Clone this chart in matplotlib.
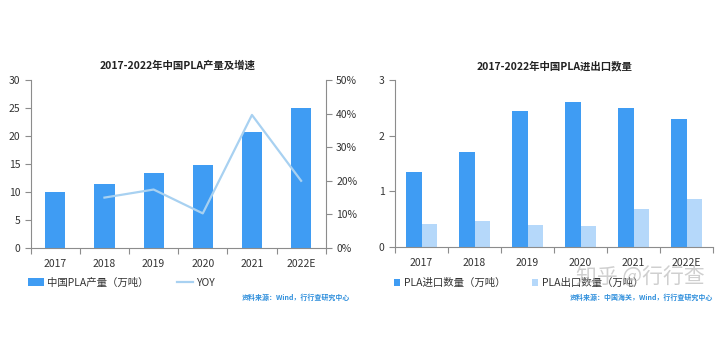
import matplotlib
matplotlib.use("Agg")
import matplotlib.pyplot as plt
import numpy as np
from matplotlib.ticker import FixedLocator, PercentFormatter

plt.rcParams['font.family'] = ['Noto Sans CJK SC', 'DejaVu Sans']

years = ["2017", "2018", "2019", "2020", "2021", "2022E"]
production = [9.95, 11.4, 13.45, 14.85, 20.75, 24.95]
yoy_years = ["2018", "2019", "2020", "2021", "2022E"]
yoy = [15.0, 17.4, 10.3, 39.6, 20.0]
imports = [1.35, 1.7, 2.45, 2.6, 2.5, 2.3]
exports = [0.41, 0.46, 0.40, 0.38, 0.675, 0.855]

C_DARK = "#3f9cf3"
C_LIGHT = "#b5d8fa"
C_LINE = "#a8d1f1"
C_SPINE = "#8c8c8c"
C_TEXT = "#333333"
C_SRC = "#2f8fdc"

fig = plt.figure(figsize=(7.2, 3.6), dpi=100)
fig.patch.set_facecolor("white")

def style(ax, right=False):
    for s in ["top"]:
        ax.spines[s].set_visible(False)
    if not right:
        ax.spines["right"].set_visible(False)
    for s in ["left", "bottom", "right"]:
        ax.spines[s].set_color(C_SPINE)
        ax.spines[s].set_linewidth(0.8)
    ax.tick_params(axis="both", colors=C_SPINE, labelcolor=C_TEXT, labelsize=7.5,
                   direction="out", length=4, width=0.8)
    ax.tick_params(axis="x", which="major", length=0, pad=8)
    ax.tick_params(axis="x", which="minor", length=4, width=0.8, colors=C_SPINE)

# ---------- Left chart ----------
ax1 = fig.add_axes([30.7/720, (360-248)/360, 295/720, 168/360])
x = np.arange(len(years))
b1 = ax1.bar(x, production, width=0.41, color=C_DARK, label="中国PLA产量（万吨）")
ax1.set_xlim(-0.5, len(years)-0.5)
ax1.set_ylim(0, 30)
ax1.set_yticks(np.arange(0, 31, 5))
ax1.set_xticks(x)
ax1.set_xticklabels(years)
ax1.xaxis.set_minor_locator(FixedLocator(np.arange(-0.5, len(years), 1.0)))
style(ax1, right=True)
ax1.spines["right"].set_visible(False)

ax1b = ax1.twinx()
yx = [years.index(y) for y in yoy_years]
l1, = ax1b.plot(yx, yoy, color=C_LINE, linewidth=1.6, label="YOY")
ax1b.set_ylim(0, 50)
ax1b.set_yticks(np.arange(0, 51, 10))
ax1b.yaxis.set_major_formatter(PercentFormatter(decimals=0))
for s in ["top", "left", "bottom"]:
    ax1b.spines[s].set_visible(False)
ax1b.spines["right"].set_color(C_SPINE)
ax1b.spines["right"].set_linewidth(0.8)
ax1b.tick_params(axis="y", colors=C_SPINE, labelcolor=C_TEXT, labelsize=7.5,
                 direction="out", length=4, width=0.8)

fig.text(178/720, 1-66/360, "2017-2022年中国PLA产量及增速", ha="center", va="center",
         fontsize=7.5, fontweight="bold", color="#222222")

leg1 = ax1.legend([b1, l1], ["中国PLA产量（万吨）", "YOY"], loc="center left",
                  bbox_to_anchor=(28/720, 1-283/360), bbox_transform=fig.transFigure,
                  ncol=2, frameon=False, fontsize=7.5, handlelength=1.5, handleheight=0.8,
                  handletextpad=0.3, columnspacing=2.8, borderaxespad=0, borderpad=0)
for t in leg1.get_texts():
    t.set_color(C_TEXT)

fig.text(350/720, 1-297/360, "资料来源：Wind，行行查研究中心", ha="right", va="center",
         fontsize=5, fontweight="bold", color=C_SRC)

# ---------- Right chart ----------
ax2 = fig.add_axes([395/720, (360-247)/360, 318/720, 167/360])
w = 0.29
b2 = ax2.bar(x - w/2, imports, width=w, color=C_DARK, label="PLA进口数量（万吨）")
b3 = ax2.bar(x + w/2, exports, width=w, color=C_LIGHT, label="PLA出口数量（万吨）")
ax2.set_xlim(-0.5, len(years)-0.5)
ax2.set_ylim(0, 3)
ax2.set_yticks([0, 1, 2, 3])
ax2.set_xticks(x)
ax2.set_xticklabels(years)
ax2.xaxis.set_minor_locator(FixedLocator(np.arange(-0.5, len(years), 1.0)))
style(ax2)

fig.text(555/720, 1-66/360, "2017-2022年中国PLA进出口数量", ha="center", va="center",
         fontsize=7.5, fontweight="bold", color="#222222")

leg2 = ax2.legend([b2, b3], ["PLA进口数量（万吨）", "PLA出口数量（万吨）"], loc="center left",
                  bbox_to_anchor=(394/720, 1-283/360), bbox_transform=fig.transFigure,
                  ncol=2, frameon=False, fontsize=7.5, handlelength=0.55, handleheight=0.55,
                  handletextpad=0.4, columnspacing=2.6, borderaxespad=0, borderpad=0)
for t in leg2.get_texts():
    t.set_color(C_TEXT)

fig.text(713/720, 1-297/360, "资料来源：中国海关，Wind，行行查研究中心", ha="right", va="center",
         fontsize=5, fontweight="bold", color=C_SRC)

# watermark
fig.text(640/720, 1-277/360, "知乎 @行行查", ha="center", va="center",
         fontsize=15, color="#b0b0b0", alpha=0.6)

fig.savefig("out.png", dpi=100, facecolor="white")
